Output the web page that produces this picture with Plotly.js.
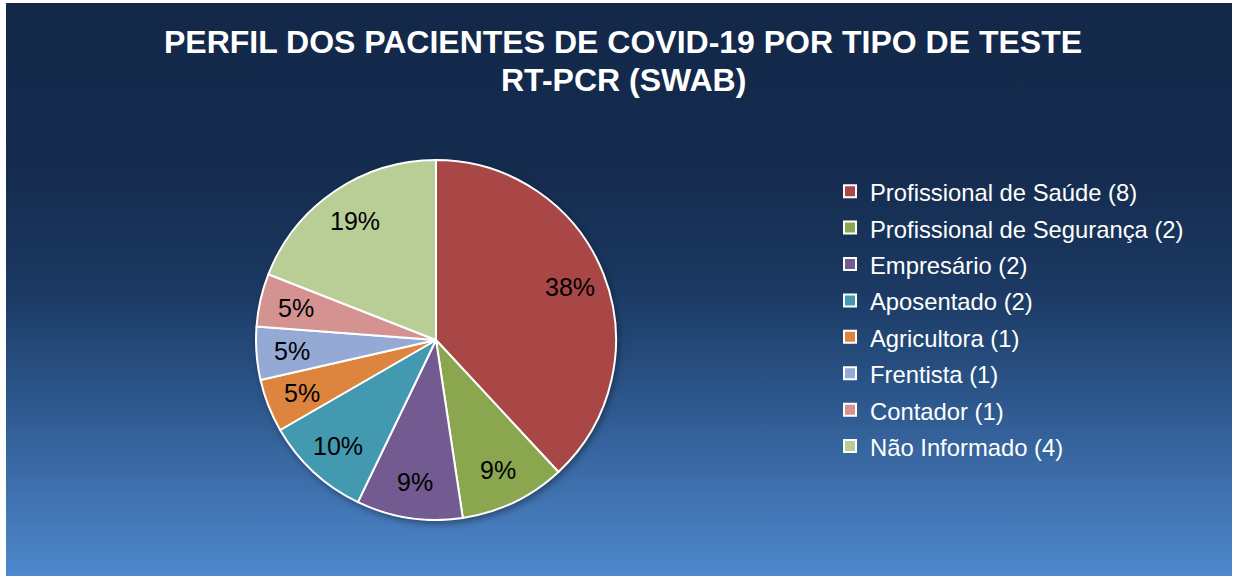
<!DOCTYPE html>
<html>
<head>
<meta charset="utf-8">
<script src="https://cdn.plot.ly/plotly-3.0.1.min.js"></script>
<style>
  html, body { margin: 0; padding: 0; background: #ffffff; width: 1234px; height: 576px; overflow: hidden; }
  #bg { position: absolute; left: 6px; top: 3px; width: 1226px; height: 573px;
        background: linear-gradient(to bottom, #132849 0%, #152c4f 30%, #1b3962 50%, #2b5589 68%, #3f70ae 85%, #4e88cd 100%); }
  #chart { position: absolute; left: 0; top: 0; width: 1234px; height: 576px; }
  #chart .pielayer { filter: drop-shadow(2px 3px 3px rgba(0,0,0,0.35)); }
</style>
</head>
<body>
<div id="bg"></div>
<div id="chart"></div>
<script>
const titleLine1 = "PERFIL DOS PACIENTES DE COVID-19 POR TIPO DE TESTE";
const titleLine2 = "RT-PCR (SWAB)";
const categories = ["Profissional de Saúde", "Profissional de Segurança", "Empresário", "Aposentado", "Agricultora", "Frentista", "Contador", "Não Informado"];
const counts = [8, 2, 2, 2, 1, 1, 1, 4];
const shownPercents = ["38%", "9%", "9%", "10%", "5%", "5%", "5%", "19%"];
const sliceColors = ["#a84745", "#8aa64e", "#735b91", "#439ab0", "#dd843e", "#94aad4", "#d49391", "#b9cd97"];

const W = 1234, H = 576;
const pieDomX = [256 / W, 616 / W];
const pieDomY = [56 / H, 416 / H];
const labelRadiusFrac = 0.8;

const legendLabels = categories.map((c, i) => `<span style="font-size:23.8px">${c} (${counts[i]})</span>`);

const trace = {
  type: "pie",
  labels: legendLabels,
  values: counts,
  text: shownPercents,
  textinfo: "none",
  sort: false,
  direction: "clockwise",
  rotation: 0,
  marker: { colors: sliceColors, line: { color: "#ffffff", width: 2 } },
  domain: { x: pieDomX, y: pieDomY },
  hoverinfo: "label+value+percent"
};

// percentage labels placed at a fixed fraction of the radius, at each slice's mid-angle (derived from the values)
const total = counts.reduce((a, b) => a + b, 0);
const cxPx = (pieDomX[0] + pieDomX[1]) / 2 * W;
const cyPx = (pieDomY[0] + pieDomY[1]) / 2 * H;
const rPx = Math.min((pieDomX[1] - pieDomX[0]) * W, (pieDomY[1] - pieDomY[0]) * H) / 2;
let cum = 0;
const labelAnnotations = counts.map((v, i) => {
  const mid = (cum + v / 2) / total * 2 * Math.PI;
  cum += v;
  const px = cxPx + labelRadiusFrac * rPx * Math.sin(mid);
  const py = cyPx + labelRadiusFrac * rPx * Math.cos(mid);
  return {
    text: shownPercents[i], showarrow: false,
    xref: "paper", yref: "paper", x: px / W, y: py / H,
    xanchor: "center", yanchor: "middle",
    font: { family: "Liberation Sans, Arial, sans-serif", size: 25, color: "#000000" }
  };
});

const layout = {
  width: W, height: H,
  margin: { l: 0, r: 0, t: 0, b: 0 },
  paper_bgcolor: "rgba(0,0,0,0)",
  plot_bgcolor: "rgba(0,0,0,0)",
  font: { family: "Liberation Sans, Arial, sans-serif", color: "#ffffff" },
  title: {
    text: titleLine1,
    x: 623 / W, xanchor: "center", xref: "container",
    y: 1 - 42 / H, yanchor: "middle", yref: "container",
    font: { family: "Liberation Sans, Arial, sans-serif", size: 32, color: "#ffffff", weight: "bold" }
  },
  annotations: [{
    text: titleLine2, showarrow: false,
    xref: "paper", yref: "paper",
    x: 623 / W, y: 1 - 80 / H, xanchor: "center", yanchor: "middle",
    font: { family: "Liberation Sans, Arial, sans-serif", size: 32, color: "#ffffff", weight: "bold" }
  }].concat(labelAnnotations),
  showlegend: true,
  legend: {
    x: 830 / W, xanchor: "left",
    y: 1 - 168 / H, yanchor: "top",
    bgcolor: "rgba(0,0,0,0)",
    borderwidth: 0,
    font: { family: "Liberation Sans, Arial, sans-serif", size: 25.7, color: "#ffffff" },
    traceorder: "normal"
  }
};

Plotly.newPlot("chart", [trace], layout, { displayModeBar: false, staticPlot: true });
</script>
</body>
</html>
